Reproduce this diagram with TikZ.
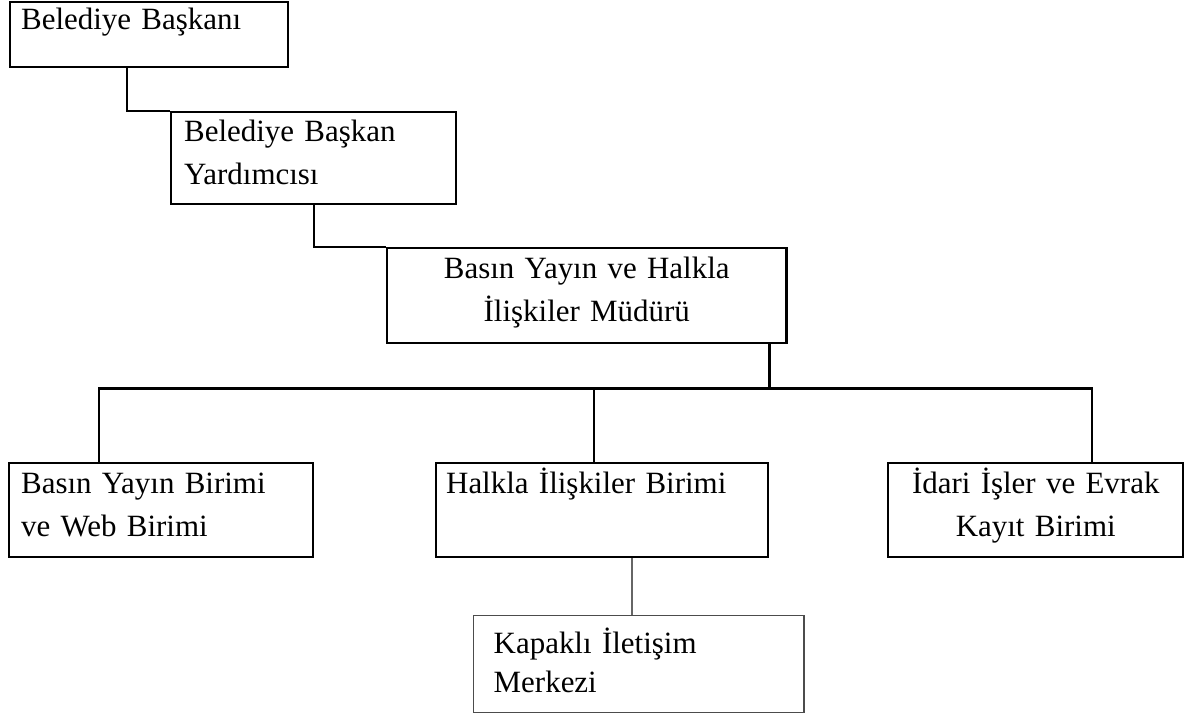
\documentclass[tikz,border=0pt]{standalone}
\usepackage{fontspec}
\setmainfont{Liberation Serif}
\usepackage{tikz}
\usetikzlibrary{calc}

\begin{document}
\begin{tikzpicture}[
    x=0.01cm, y=-0.01cm,
    every node/.style={rectangle, draw, line width=0.65pt, inner ysep=0pt, anchor=north west,
        font=\fontsize{8.8}{12.2}\selectfont},
    link/.style={draw, line width=0.65pt},
    thinlink/.style={draw, line width=0.4pt, black!60}
]
    \useasboundingbox (0,0) rectangle (1186,717);

    % Org chart
    \node[align=left, inner xsep=0.11cm, text width=2.56cm, text height=0.27cm, text depth=0.38cm]
        (baskan) at (9,1) {Belediye Başkanı};
    \node[align=left, inner xsep=0.13cm, text width=2.59cm, text height=0.29cm, text depth=0.63cm]
        (yrd) at (170,111) {Belediye Başkan\\Yardımcısı};
    \node[align=center, inner xsep=0.10cm, text width=3.79cm, text height=0.30cm, text depth=0.65cm]
        (mudur) at (386,247) {Basın Yayın ve Halkla\\İlişkiler Müdürü};
    \node[align=left, inner xsep=0.12cm, text width=2.80cm, text height=0.30cm, text depth=0.64cm]
        (basin) at (8,462) {Basın Yayın Birimi\\ve Web Birimi};
    \node[align=left, inner xsep=0.10cm, text width=3.12cm, text height=0.30cm, text depth=0.64cm]
        (halkla) at (435,462) {Halkla İlişkiler Birimi};
    \node[align=center, inner xsep=0.10cm, text width=2.75cm, text height=0.30cm, text depth=0.64cm]
        (idari) at (887,462) {İdari İşler ve Evrak\\Kayıt Birimi};
    \node[align=left, inner xsep=0.20cm, text width=2.90cm, text height=0.38cm, text depth=0.59cm,
        line width=0.4pt, draw=black!70, font=\fontsize{8.8}{11.1}\selectfont]
        (kapakli) at (473,615) {Kapaklı İletişim\\Merkezi};

    \coordinate (bus) at ($(mudur.south west)!0.955!(mudur.south east) + (0,44)$);
    \coordinate (top5) at ($(halkla.north west)!0.476!(halkla.north east)$);
    \coordinate (top7) at ($(kapakli.north west)!0.48!(kapakli.north east)$);

    \draw[link] ($(baskan.south west)!0.42!(baskan.south east)$) |- (yrd.north west);
    \draw[link] (yrd.south) |- (mudur.north west);
    \draw[link] ($(mudur.south west)!0.955!(mudur.south east)$) -- (bus);
    \draw[link] ($(basin.north west)!0.296!(basin.north east)$) |- (bus)
        -| ($(idari.north west)!0.69!(idari.north east)$);
    \draw[link] (top5) -- (top5 |- bus);
    \draw[thinlink] (top7) -- (top7 |- halkla.south);
\end{tikzpicture}
\end{document}
